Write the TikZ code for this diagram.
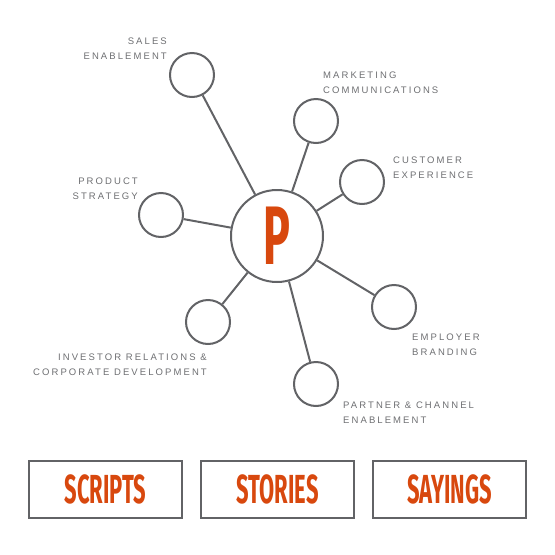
\documentclass[tikz,border=0pt]{standalone}
\usepackage{fontspec}
\setmainfont{Liberation Sans}
\newfontfamily\capsfont[LetterSpace=22]{Liberation Sans}
\newfontfamily\condfont[FakeStretch=0.54]{Fira Sans}
\usetikzlibrary{positioning}
\definecolor{rust}{RGB}{216,72,14}
\definecolor{slate}{RGB}{98,99,102}
\definecolor{ash}{RGB}{110,111,114}

\begin{document}
\begin{tikzpicture}[x=1pt, y=-1pt,
    hub/.style={circle, draw=slate, line width=2pt, fill=white, minimum size=92pt, inner sep=0pt, text=rust, font=\condfont\bfseries\fontsize{83}{83}\selectfont},
    spoke/.style={circle, draw=slate, line width=2pt, fill=white, minimum size=44pt, inner sep=0pt},
    link/.style={slate, line width=2pt},
    tag/.style={inner sep=0pt, text=ash, font=\capsfont\fontsize{9.5}{14.5}\selectfont},
    pillar/.style={rectangle, draw=slate, line width=2pt, minimum width=153pt, minimum height=57pt, inner sep=0pt, text=rust, font=\condfont\bfseries\fontsize{40.6}{41}\selectfont}
]
\useasboundingbox (0,0) rectangle (555,555);

\node[hub] (p) at (277,236) {P};

\node[spoke] (sales) at (192,75) {};
\node[spoke] (mktg) at (316,121) {};
\node[spoke] (cx) at (362,182) {};
\node[spoke] (product) at (161,215) {};
\node[spoke] (employer) at (394,307) {};
\node[spoke] (investor) at (208,322) {};
\node[spoke] (partner) at (316,384) {};

\foreach \s in {sales,mktg,cx,product,employer,investor,partner}
    \draw[link] (p) -- (\s);

% labels
\node[tag, anchor=north east, align=right] (salestxt) at (167,38) {SALES\\ENABLEMENT};
\node[tag, anchor=north west, align=left] (mktgtxt) at (323,72) {MARKETING\\COMMUNICATIONS};
\node[tag, anchor=north west, align=left] (cxtxt) at (393,157) {CUSTOMER\\EXPERIENCE};
\node[tag, anchor=north east, align=right] (producttxt) at (138,178) {PRODUCT\\STRATEGY};
\node[tag, anchor=north west, align=left] (employertxt) at (412,334) {EMPLOYER\\BRANDING};
\node[tag, anchor=north east, align=right] (investortxt) at (207,354) {INVESTOR RELATIONS \&\\CORPORATE DEVELOPMENT};
\node[tag, anchor=north west, align=left] (partnertxt) at (343,402) {PARTNER \& CHANNEL\\ENABLEMENT};

% bottom row
\node[pillar] (scripts) at (105.5,489) {SCRIPTS};
\node[pillar] (stories) at (277.5,489) {STORIES};
\node[pillar] (sayings) at (449.5,489) {SAYINGS};

\end{tikzpicture}
\end{document}
